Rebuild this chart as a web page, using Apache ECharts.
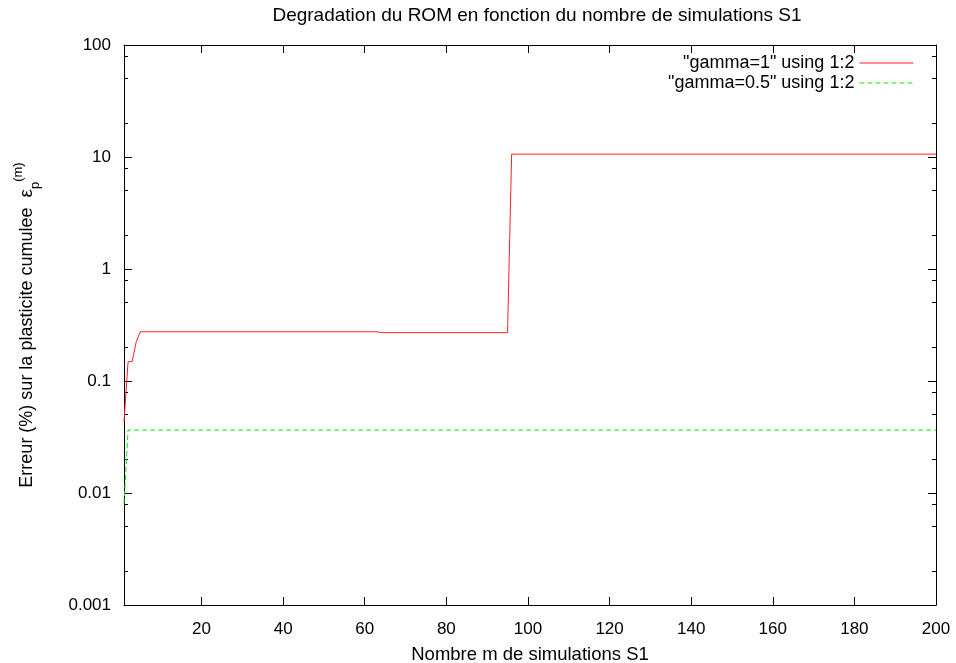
<!DOCTYPE html>
<html lang="fr">
  <head>
    <meta charset="UTF-8" />
    <title>Degradation du ROM</title>
    <script src="https://cdn.jsdelivr.net/npm/echarts@6/dist/echarts.min.js"></script>
    <style>
      html, body { margin: 0; padding: 0; background: #fff; }
      #chart { width: 956px; height: 663px; }
    </style>
  </head>
  <body>
    <div id="chart"></div>
    <script>
      // step points (value stays flat between two points)
      const gammaOneM = [1, 2, 3, 4, 5, 63, 64, 95, 96, 200];
      const gammaOneErr = [0.043, 0.149, 0.149, 0.224, 0.275, 0.275, 0.27, 0.27, 10.6, 10.6];
      const gammaHalfM = [1, 2, 200];
      const gammaHalfErr = [0.008, 0.0365, 0.0365];

      const xTicks = [20, 40, 60, 80, 100, 120, 140, 160, 180, 200];
      const yMajor = [0.001, 0.01, 0.1, 1, 10, 100];
      const yMinor = [0.002, 0.005, 0.008, 0.02, 0.05, 0.08, 0.2, 0.5, 0.8,
                      2, 5, 8, 20, 50, 80];

      const nameOne = '"gamma=1" using 1:2';
      const nameHalf = '"gamma=0.5" using 1:2';
      const red = '#ff2020';
      const green = '#00ee00';

      const font = "'Liberation Sans', Arial, sans-serif";
      const axisLine = { show: true, lineStyle: { color: '#000', width: 1 } };

      function zip(xs, ys) {
        return xs.map((x, i) => [x, ys[i]]);
      }

      function fmt(v) {
        return String(parseFloat(Number(v).toPrecision(6)));
      }

      function xAxis(pos, labels) {
        return {
          type: 'value', position: pos, min: 1, max: 200,
          axisLine: axisLine,
          axisTick: { inside: true, length: 8, customValues: xTicks, lineStyle: { color: '#000' } },
          axisLabel: { show: labels, customValues: xTicks, fontSize: 17, margin: 16,
                       color: '#000', fontFamily: font },
          splitLine: { show: false }
        };
      }

      function yAxis(pos, ticks, len, labels, line) {
        return {
          type: 'log', logBase: 10, position: pos, min: 0.001, max: 100,
          axisLine: line ? axisLine : { show: false },
          axisTick: { inside: true, length: len, customValues: ticks, lineStyle: { color: '#000' } },
          axisLabel: { show: labels, customValues: ticks, fontSize: 17, margin: 13,
                       color: '#000', fontFamily: font, formatter: fmt },
          splitLine: { show: false },
          minorTick: { show: false }
        };
      }

      const chart = echarts.init(document.getElementById('chart'), null, { renderer: 'canvas' });

      const xMain = xAxis('bottom', true);
      xMain.name = 'Nombre m de simulations S1';
      xMain.nameLocation = 'middle';
      xMain.nameGap = 40;
      xMain.nameTextStyle = { fontSize: 18.5, color: '#000', fontFamily: font };

      const yMain = yAxis('left', yMajor, 8, true, true);
      yMain.name = 'Erreur (%) sur la plasticite cumulee  {e|ε}{sub|p}{sup|(m)}';
      yMain.nameLocation = 'middle';
      yMain.nameGap = 82;
      yMain.nameRotate = 90;
      yMain.nameTextStyle = {
        fontSize: 18, color: '#000', fontFamily: font, lineHeight: 30,
        rich: {
          e: { fontSize: 19, color: '#000', fontFamily: font, lineHeight: 30 },
          sub: { fontSize: 13, color: '#000', fontFamily: font, verticalAlign: 'bottom', lineHeight: 24 },
          sup: { fontSize: 13, color: '#000', fontFamily: font, verticalAlign: 'top', lineHeight: 30 }
        }
      };

      function legendFor(name, color, dash, top) {
        return {
          data: [{ name: name }],
          top: top, right: 42, padding: 0, align: 'right', itemWidth: 54, itemHeight: 12,
          selectedMode: false,
          itemStyle: { opacity: 0, borderWidth: 0 },
          lineStyle: { color: color, width: 1.2, type: dash },
          textStyle: { fontSize: 18, color: '#000', fontFamily: font }
        };
      }

      const option = {
        animation: false,
        backgroundColor: '#fff',
        color: [red, green],
        title: {
          text: 'Degradation du ROM en fonction du nombre de simulations S1',
          left: 537, top: 6, textAlign: 'center', padding: 0,
          textStyle: { fontSize: 19, fontWeight: 'normal', color: '#000', fontFamily: font }
        },
        legend: [
          legendFor(nameOne, red, 'solid', 54),
          legendFor(nameHalf, green, [5, 3], 74)
        ],
        grid: { left: 124, right: 20, top: 45, bottom: 58, containLabel: false, outerBoundsMode: 'none' },
        xAxis: [xMain, xAxis('top', false)],
        yAxis: [
          yMain,
          yAxis('right', yMajor, 8, false, true),
          yAxis('left', yMinor, 4, false, false),
          yAxis('right', yMinor, 4, false, false)
        ],
        series: [
          {
            name: nameOne, type: 'line', xAxisIndex: 0, yAxisIndex: 0,
            data: zip(gammaOneM, gammaOneErr), symbol: 'none',
            lineStyle: { color: red, width: 1 }, itemStyle: { color: red }
          },
          {
            name: nameHalf, type: 'line', xAxisIndex: 0, yAxisIndex: 0,
            data: zip(gammaHalfM, gammaHalfErr), symbol: 'none',
            lineStyle: { color: green, width: 1, type: [5, 3] }, itemStyle: { color: green }
          }
        ]
      };

      chart.setOption(option);
    </script>
  </body>
</html>
